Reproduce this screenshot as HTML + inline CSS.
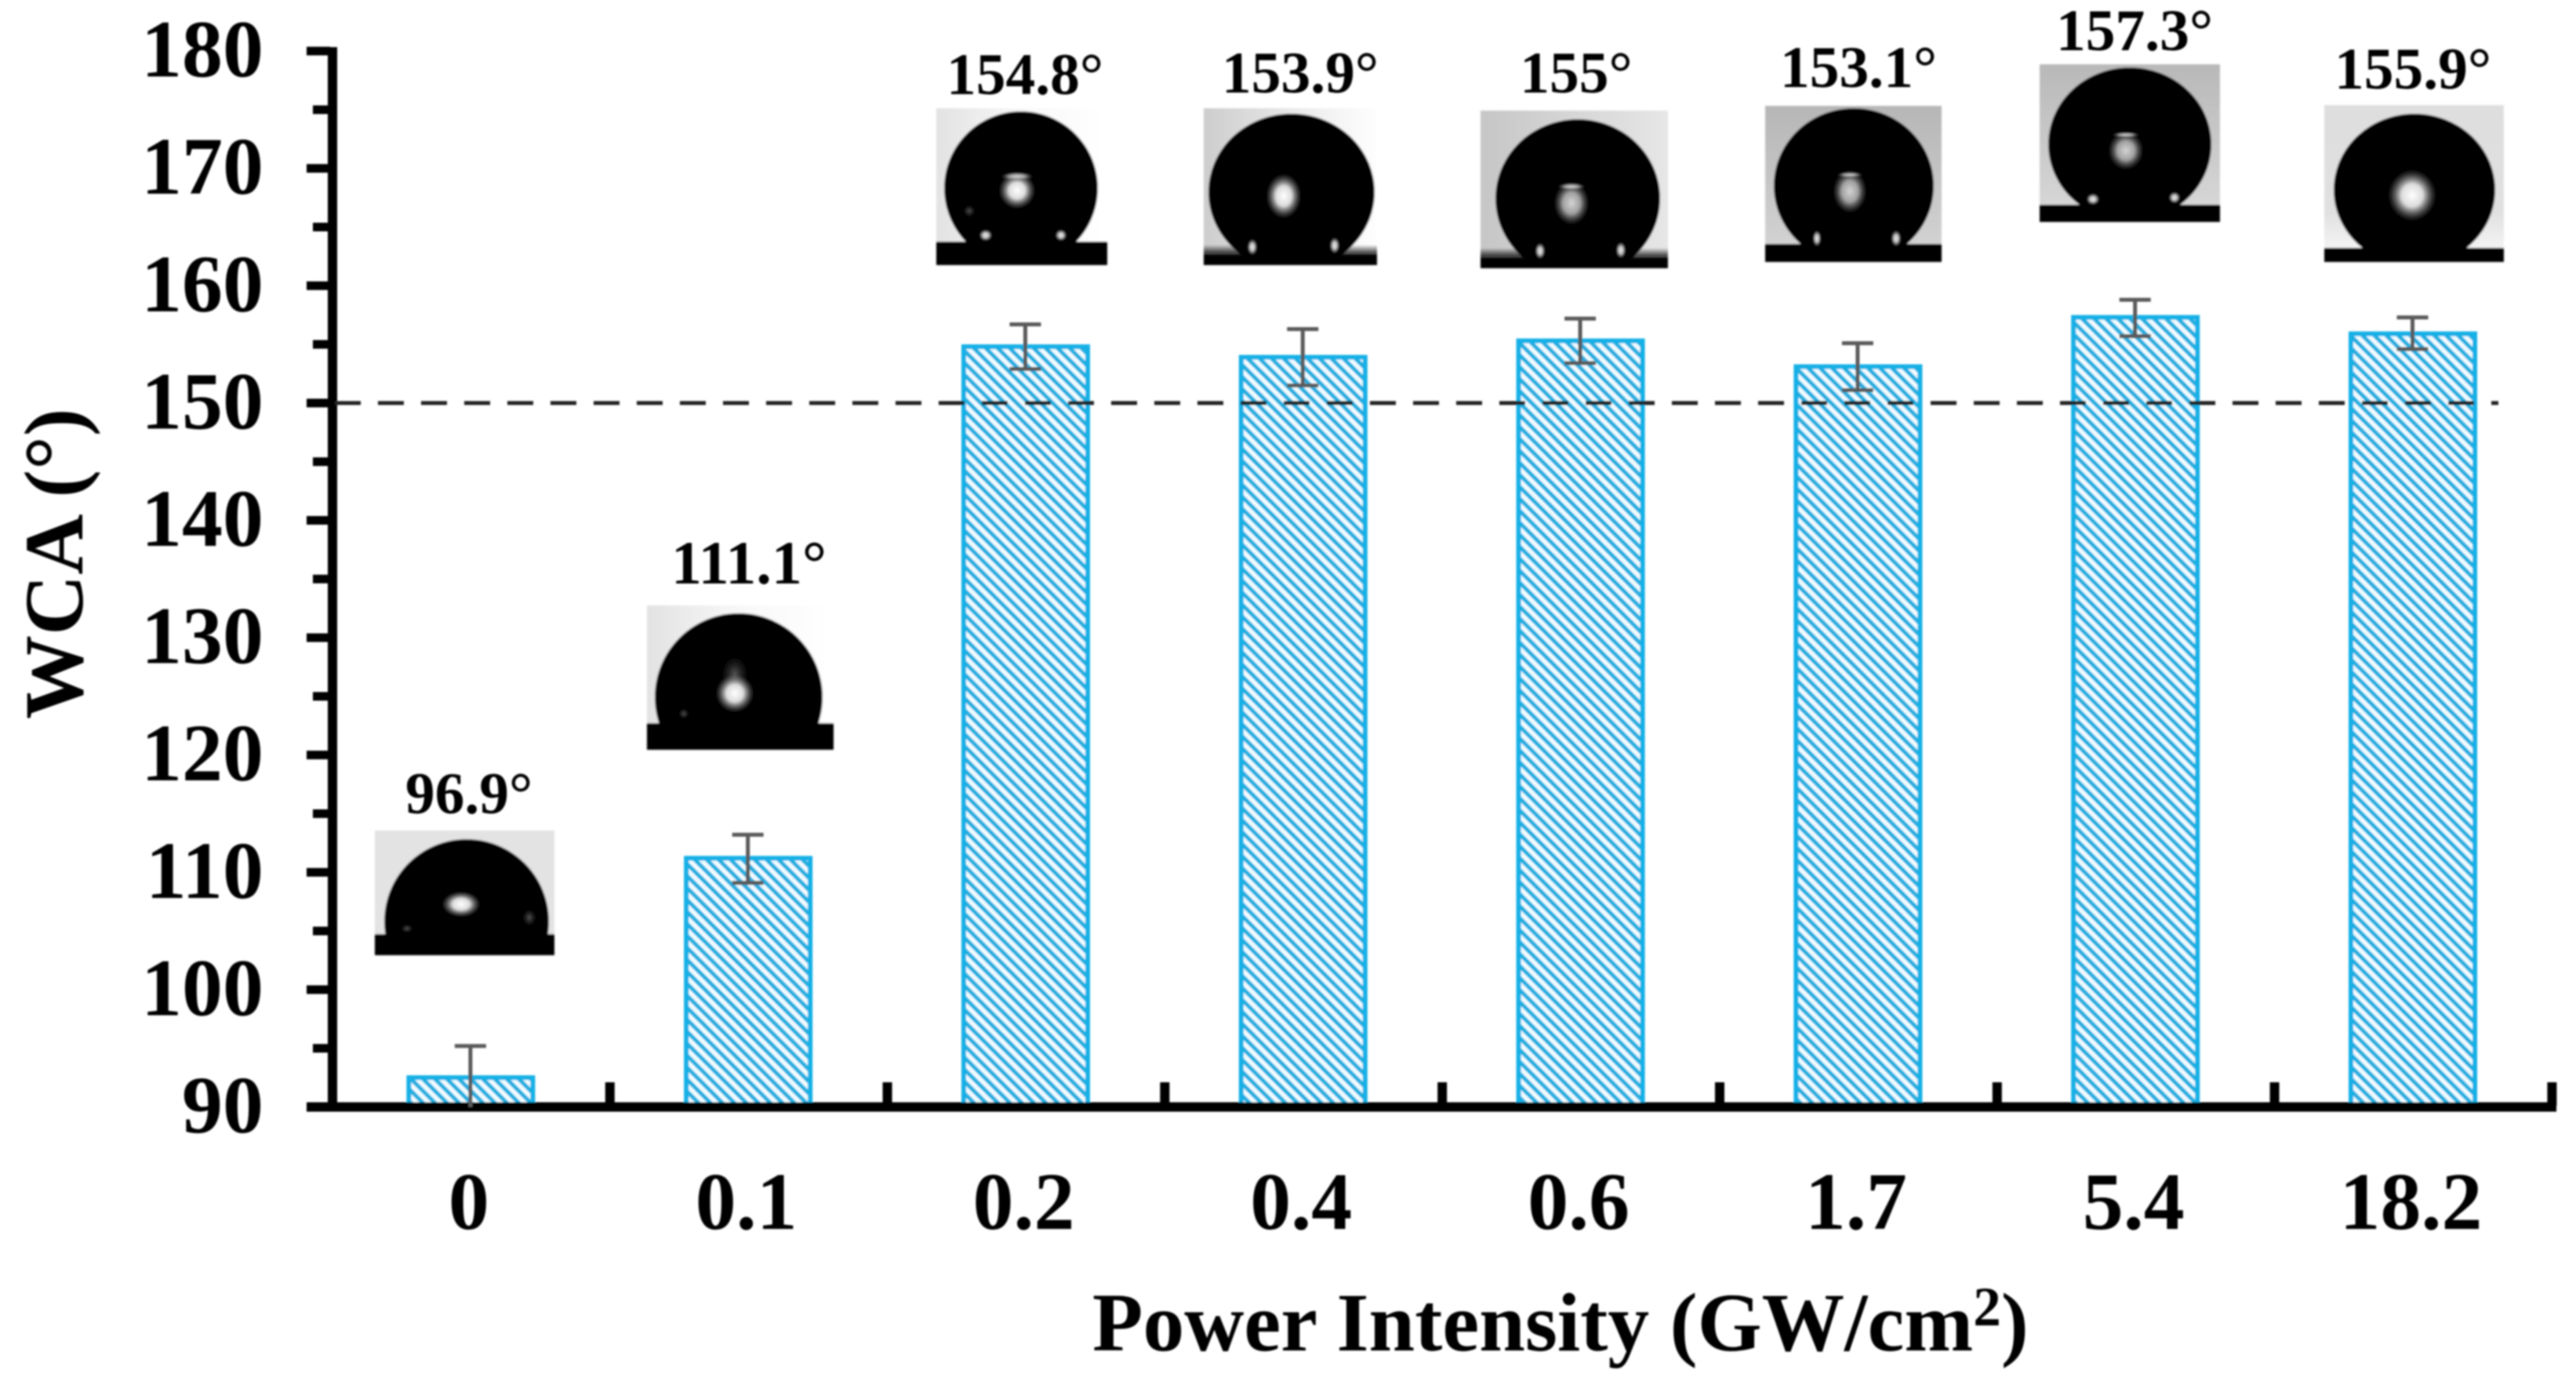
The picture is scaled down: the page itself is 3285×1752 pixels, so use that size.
<!DOCTYPE html>
<html lang="en">
<head>
<meta charset="utf-8">
<title>WCA vs Power Intensity</title>
<style>
html,body{margin:0;padding:0;background:#fff;}
svg{display:block;}
text{font-family:"Liberation Serif",serif;font-weight:bold;fill:#000;}
.ang{font-size:75.5px;text-anchor:middle;}
</style>
</head>
<body>
<svg id="chart" xmlns="http://www.w3.org/2000/svg" width="3285" height="1752" viewBox="0 0 3285 1752">
<defs>
<pattern id="hatch" patternUnits="userSpaceOnUse" width="10.8" height="10.8" patternTransform="rotate(-45)">
<rect width="10.8" height="10.8" fill="#f0fbff"/>
<rect width="5.2" height="10.8" fill="#1eaee0"/>
</pattern>
<filter id="soft" filterUnits="userSpaceOnUse" x="0" y="0" width="3285" height="1752"><feGaussianBlur stdDeviation="1"/></filter>
<filter id="softer" filterUnits="userSpaceOnUse" x="0" y="0" width="3285" height="1752"><feGaussianBlur stdDeviation="1.3"/></filter>
<radialGradient id="hl"><stop offset="0" stop-color="#fff"/><stop offset=".45" stop-color="#dcdcdc"/><stop offset="1" stop-color="#888" stop-opacity="0"/></radialGradient>
<radialGradient id="hl2"><stop offset="0" stop-color="#d4d4d4"/><stop offset=".5" stop-color="#a0a0a0"/><stop offset="1" stop-color="#666" stop-opacity="0"/></radialGradient>
<radialGradient id="spot"><stop offset="0" stop-color="#eee"/><stop offset=".5" stop-color="#bbb"/><stop offset="1" stop-color="#888" stop-opacity="0"/></radialGradient>
<radialGradient id="dim"><stop offset="0" stop-color="#555"/><stop offset="1" stop-color="#333" stop-opacity="0"/></radialGradient>
<linearGradient id="bgLeftWhite"><stop offset="0" stop-color="#e2e2e2"/><stop offset=".5" stop-color="#f8f8f8"/><stop offset="1" stop-color="#fff"/></linearGradient>
<linearGradient id="bg04"><stop offset="0" stop-color="#cdcdcd"/><stop offset=".7" stop-color="#f2f2f2"/><stop offset="1" stop-color="#fefefe"/></linearGradient>
<linearGradient id="bg06"><stop offset="0" stop-color="#c6c6c6"/><stop offset="1" stop-color="#e6e6e6"/></linearGradient>
<linearGradient id="bg17" x1="0" y1="0" x2="0" y2="1"><stop offset="0" stop-color="#b6b6b6"/><stop offset="1" stop-color="#d2d2d2"/></linearGradient>
<linearGradient id="bg54" x1="0" y1="0" x2="0" y2="1"><stop offset="0" stop-color="#b8b8b8"/><stop offset="1" stop-color="#d6d6d6"/></linearGradient>
<linearGradient id="bg182" x1="0" y1="0" x2="0" y2="1"><stop offset="0" stop-color="#dedede"/><stop offset=".75" stop-color="#e0e0e0"/><stop offset="1" stop-color="#f4f4f4"/></linearGradient>
<linearGradient id="fade" x1="0" y1="0" x2="0" y2="1"><stop offset="0" stop-color="#000" stop-opacity="0"/><stop offset=".55" stop-color="#000"/><stop offset="1" stop-color="#000"/></linearGradient>
<clipPath id="clip0"><rect x="478" y="1059" width="229" height="159"/></clipPath>
<clipPath id="clip01"><rect x="825" y="772" width="238" height="184"/></clipPath>
<clipPath id="clip02"><rect x="1194" y="138" width="218" height="200"/></clipPath>
<clipPath id="clip04"><rect x="1535" y="138" width="221" height="200"/></clipPath>
<clipPath id="clip06"><rect x="1888" y="141" width="239" height="201"/></clipPath>
<clipPath id="clip17"><rect x="2251" y="135" width="225" height="199"/></clipPath>
<clipPath id="clip54"><rect x="2601" y="82" width="230" height="201"/></clipPath>
<clipPath id="clip182"><rect x="2964" y="134" width="229" height="200"/></clipPath>
</defs>

<g filter="url(#soft)">
<g id="bars"></g>
<g id="axes"></g>
<g id="threshold"></g>
<g id="errors"></g>

<text transform="translate(105,917) rotate(-90)" font-size="107">WCA (°)</text>
<text x="1393" y="1722" font-size="105.5">Power Intensity (GW/cm<tspan font-size="71" dy="-32">2</tspan><tspan dy="32">)</tspan></text>

<text class="ang" x="598" y="1037">96.9°</text>
<text class="ang" x="955" y="744" font-size="78" style="font-size:78px">111.1°</text>
<text class="ang" x="1307" y="120">154.8°</text>
<text class="ang" x="1658" y="118">153.9°</text>
<text class="ang" x="2010" y="118">155°</text>
<text class="ang" x="2370" y="111">153.1°</text>
<text class="ang" x="2722" y="64">157.3°</text>
<text class="ang" x="3077" y="113">155.9°</text>
</g>

<g filter="url(#softer)">
<g>
<rect x="478" y="1059" width="229" height="132" fill="#e3e3e3"/>
<ellipse cx="595" cy="1175" rx="105" ry="105" fill="#040404" clip-path="url(#clip0)"/>
<rect x="478" y="1191" width="229" height="27" fill="#030303"/>
<ellipse cx="588" cy="1153" rx="24" ry="16" fill="url(#hl)"/>
<ellipse cx="519" cy="1184" rx="7" ry="5" fill="url(#dim)"/>
<ellipse cx="675" cy="1170" rx="8" ry="10" fill="url(#dim)"/>
</g>
<g>
<rect x="825" y="772" width="238" height="150" fill="url(#bgLeftWhite)"/>
<ellipse cx="942" cy="889" rx="107" ry="107" fill="#040404" clip-path="url(#clip01)"/>
<rect x="825" y="922" width="238" height="34" fill="#030303"/>
<ellipse cx="937" cy="860" rx="16" ry="22" fill="url(#dim)"/>
<ellipse cx="937" cy="884" rx="24" ry="24" fill="url(#hl)"/>
<ellipse cx="872" cy="910" rx="6" ry="6" fill="url(#dim)"/>
</g>
<g>
<rect x="1194" y="138" width="218" height="172" fill="url(#bgLeftWhite)"/>
<rect x="1194" y="308" width="218" height="30" fill="#030303"/>
<circle cx="1302" cy="240" r="98" fill="#040404" clip-path="url(#clip02)"/>
<ellipse cx="1297" cy="243" rx="23" ry="23" fill="url(#hl)"/>
<ellipse cx="1297" cy="225" rx="20" ry="5" fill="url(#hl2)"/>
<ellipse cx="1257" cy="300" rx="8" ry="7" fill="url(#spot)"/>
<ellipse cx="1353" cy="300" rx="7" ry="7" fill="url(#spot)"/>
<ellipse cx="1236" cy="269" rx="7" ry="7" fill="url(#dim)"/>
</g>
<g>
<rect x="1535" y="138" width="221" height="185" fill="url(#bg04)"/>
<rect x="1535" y="312" width="221" height="26" fill="url(#fade)"/>
<ellipse cx="1647" cy="245" rx="106" ry="100" fill="#040404" clip-path="url(#clip04)"/>
<ellipse cx="1637" cy="250" rx="22" ry="28" fill="url(#hl)"/>
<ellipse cx="1597" cy="315" rx="6" ry="10" fill="url(#spot)"/>
<ellipse cx="1702" cy="313" rx="6" ry="10" fill="url(#spot)"/>
</g>
<g>
<rect x="1888" y="141" width="239" height="186" fill="url(#bg06)"/>
<rect x="1888" y="316" width="239" height="26" fill="url(#fade)"/>
<ellipse cx="2012" cy="253" rx="105" ry="101" fill="#040404" clip-path="url(#clip06)"/>
<ellipse cx="2004" cy="259" rx="22" ry="27" fill="url(#hl2)"/>
<ellipse cx="2004" cy="238" rx="17" ry="4" fill="url(#hl2)"/>
<ellipse cx="1964" cy="320" rx="6" ry="10" fill="url(#spot)"/>
<ellipse cx="2067" cy="319" rx="6" ry="10" fill="url(#spot)"/>
</g>
<g>
<rect x="2251" y="135" width="225" height="178" fill="url(#bg17)"/>
<rect x="2251" y="311" width="225" height="23" fill="#040404"/>
<ellipse cx="2364" cy="237" rx="102" ry="99" fill="#040404" clip-path="url(#clip17)"/>
<ellipse cx="2359" cy="244" rx="21" ry="27" fill="url(#hl2)"/>
<ellipse cx="2359" cy="223" rx="16" ry="3" fill="url(#hl2)"/>
<ellipse cx="2317" cy="304" rx="5" ry="10" fill="url(#spot)"/>
<ellipse cx="2418" cy="304" rx="6" ry="10" fill="url(#spot)"/>
</g>
<g>
<rect x="2601" y="82" width="230" height="180" fill="url(#bg54)"/>
<rect x="2601" y="261" width="230" height="22" fill="#040404"/>
<ellipse cx="2716" cy="184" rx="104" ry="98" fill="#040404" clip-path="url(#clip54)"/>
<ellipse cx="2711" cy="192" rx="22" ry="24" fill="url(#hl2)"/>
<ellipse cx="2711" cy="172" rx="17" ry="3" fill="url(#hl2)"/>
<ellipse cx="2669" cy="254" rx="8" ry="7" fill="url(#spot)"/>
<ellipse cx="2773" cy="252" rx="7" ry="7" fill="url(#spot)"/>
</g>
<g>
<rect x="2964" y="134" width="229" height="183" fill="url(#bg182)"/>
<rect x="2964" y="316" width="229" height="18" fill="#040404"/>
<ellipse cx="3079" cy="242" rx="103" ry="97" fill="#060606" clip-path="url(#clip182)"/>
<ellipse cx="3076" cy="249" rx="30" ry="32" fill="url(#hl)"/>
</g>
</g>

<script>
var categories = ["0", "0.1", "0.2", "0.4", "0.6", "1.7", "5.4", "18.2"];
var wcaValues = [92.5, 111.2, 154.8, 153.9, 155.3, 153.1, 157.3, 155.9];
var errorTop = [95.2, 113.2, 156.7, 156.3, 157.2, 155.1, 158.8, 157.3];
var errorBottom = [90, 109.1, 152.9, 151.5, 153.4, 151.1, 155.7, 154.6];
var yMajorTicks = [90, 100, 110, 120, 130, 140, 150, 160, 170, 180];
var yMinorTicks = [95, 105, 115, 125, 135, 145, 155, 165, 175];
var thresholdValue = [150];

var NS = "http://www.w3.org/2000/svg";
var yAxisX = 424, catStep = 353.8, baselineY = 1411.5, unitPx = 14.96, yMin = 90;
function yScale(v) { return baselineY - (v - yMin) * unitPx; }
function xBand(i) { return yAxisX + catStep * (i + 0.5); }
function xEdge(i) { return yAxisX + catStep * i; }
function make(parent, tag, attrs) {
  var el = document.createElementNS(NS, tag);
  for (var k in attrs) { el.setAttribute(k, attrs[k]); }
  document.getElementById(parent).appendChild(el);
  return el;
}

categories.forEach(function (c, i) {
  var top = yScale(wcaValues[i]);
  var bar = make("bars", "rect", { x: xBand(i) - 79.5, y: top, width: 158, height: baselineY - top, fill: "url(#hatch)", stroke: "#19b0e6", "stroke-width": 6 });
  
  

  var cx = xBand(i) - 1;
  var yt = yScale(errorTop[i]), yb = yScale(errorBottom[i]);
  var stem = make("errors", "line", { x1: cx, x2: cx, y1: yt, y2: yb, stroke: "#5a5a5a", "stroke-width": 5 });
  
  
  var capT = make("errors", "line", { x1: cx - 20, x2: cx + 20, y1: yt, y2: yt, stroke: "#5a5a5a", "stroke-width": 5 });
  
  
  if (errorBottom[i] > yMin) {
    var capB = make("errors", "line", { x1: cx - 20, x2: cx + 20, y1: yb, y2: yb, stroke: "#5a5a5a", "stroke-width": 5 });
    
    
  }

  var label = make("axes", "text", { x: xBand(i) - 3, y: 1567, "font-size": 104, "text-anchor": "middle" });
  label.textContent = c;
  
  
});

var yLine = make("axes", "rect", { x: yAxisX - 6, y: yScale(180) - 5, width: 12, height: baselineY - yScale(180) + 11, fill: "#000" });


var xLine = make("axes", "rect", { x: 391, y: baselineY - 6, width: 2869, height: 12, fill: "#000" });



yMajorTicks.forEach(function (t) {
  var tick = make("axes", "rect", { x: 391, y: yScale(t) - 5.5, width: 30, height: 11, fill: "#000" });
  
  
  var lab = make("axes", "text", { x: 336, y: yScale(t) + 32.5, "font-size": 104, "text-anchor": "end" });
  lab.textContent = t;
  
  
});
yMinorTicks.forEach(function (t) {
  var tick = make("axes", "rect", { x: 399, y: yScale(t) - 5.5, width: 22, height: 11, fill: "#000" });
  
  
});
categories.forEach(function (c, i) {
  var tick = make("axes", "rect", { x: xEdge(i + 1) - 6, y: 1380, width: 12, height: 30, fill: "#000" });
  
  
});

var dash = make("threshold", "line", { x1: 427, x2: 3186, y1: yScale(thresholdValue[0]), y2: yScale(thresholdValue[0]), stroke: "#222", "stroke-width": 5, "stroke-dasharray": "33 22" });


</script>
</svg>
</body>
</html>
